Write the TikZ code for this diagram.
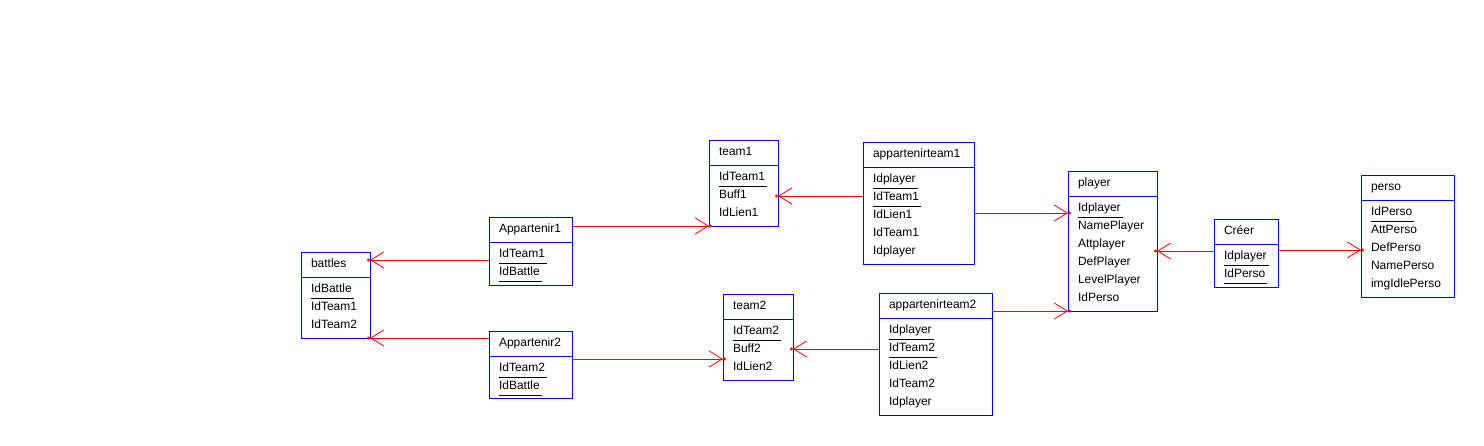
\documentclass[tikz,border=0pt]{standalone}
\usepackage{fontspec}
\setmainfont{Liberation Sans}
\usetikzlibrary{arrows.meta}
\definecolor{eblue}{RGB}{0,0,255}
\definecolor{cred}{RGB}{255,0,0}
\tikzset{
  entity/.style={draw=eblue, line width=1pt, anchor=north west, inner sep=0pt, outer sep=0pt},
  entline/.style={draw=eblue, line width=1pt},
  etext/.style={anchor=base west, inner sep=0pt, outer sep=0pt, font=\fontsize{12}{14}\selectfont, text=black},
  uline/.style={draw=black, line width=1pt},
  conn/.style={draw=cred, line width=1pt, -{Straight Barb[length=13pt,width=16pt,line width=0.8pt] Circle[length=3pt,sep=-3pt]}}
}
\newcommand\entbox[7]{%
  \node[entity, minimum width=#4pt, minimum height=#5pt] (#1) at (#2,#3) {};
  \draw[entline] ([yshift=-25pt]#1.north west) -- ([yshift=-25pt]#1.north east);
  \node[etext] (#1-t) at ([xshift=10pt,yshift=-15.5pt]#1.north west) {#6};
  \foreach \t [count=\i] in {#7} {
    \node[etext] (#1-\i) at ([xshift=10pt,yshift={-(40.5+18*(\i-1))*1pt}]#1.north west) {\t};
  }
}
\newcommand\ulattr[1]{%
  \draw[uline] ([yshift=-5.5pt]#1.base west) -- ([yshift=-5.5pt,xshift=2pt]#1.base east);
}
\begin{document}
\begin{tikzpicture}[x=1pt,y=-1pt]
\useasboundingbox[fill=white] (0,0) rectangle (1484,445);
\entbox{battles}{301}{252}{69}{86}{battles}{IdBattle,IdTeam1,IdTeam2}
\entbox{appA}{489}{217}{83}{68}{Appartenir1}{IdTeam1,IdBattle}
\entbox{appB}{489}{331}{83}{67}{Appartenir2}{IdTeam2,IdBattle}
\entbox{teamA}{709}{140}{69}{86}{team1}{IdTeam1,Buff1,IdLien1}
\entbox{atA}{863}{142}{111}{122}{appartenirteam1}{Idplayer,IdTeam1,IdLien1,IdTeam1,Idplayer}
\entbox{teamB}{723}{294}{70}{86}{team2}{IdTeam2,Buff2,IdLien2}
\entbox{atB}{879}{293}{113}{122}{appartenirteam2}{Idplayer,IdTeam2,IdLien2,IdTeam2,Idplayer}
\entbox{player}{1068}{171}{89}{140}{player}{Idplayer,NamePlayer,Attplayer,DefPlayer,LevelPlayer,IdPerso}
\entbox{creer}{1214}{219}{64}{68}{Créer}{Idplayer,IdPerso}
\entbox{perso}{1361}{175}{93}{122}{perso}{IdPerso,AttPerso,DefPerso,NamePerso,imgIdlePerso}
\ulattr{battles-1}
\ulattr{appA-1}\ulattr{appA-2}
\ulattr{appB-1}\ulattr{appB-2}
\ulattr{teamA-1}
\ulattr{teamB-1}
\ulattr{atA-1}\ulattr{atA-2}
\ulattr{atB-1}\ulattr{atB-2}
\ulattr{player-1}
\ulattr{creer-1}\ulattr{creer-2}
\ulattr{perso-1}
\draw[conn] (appA.west |- 0,260) -- (battles.east |- 0,260);
\draw[conn] (appB.west |- 0,338) -- (battles.east |- 0,338);
\draw[conn] (appA.east |- 0,226) -- (teamA.west |- 0,226);
\draw[conn] (appB.east |- 0,359) -- (teamB.west |- 0,359);
\draw[conn] (atA.west |- 0,196) -- (teamA.east |- 0,196);
\draw[conn] (atB.west |- 0,349) -- (teamB.east |- 0,349);
\draw[conn] (atA.east |- 0,213) -- (player.west |- 0,213);
\draw[conn] (atB.east |- 0,311) -- (player.west |- 0,311);
\draw[conn] (creer.west |- 0,251) -- (player.east |- 0,251);
\draw[conn] (creer.east |- 0,250) -- (perso.west |- 0,250);
\end{tikzpicture}
\end{document}
